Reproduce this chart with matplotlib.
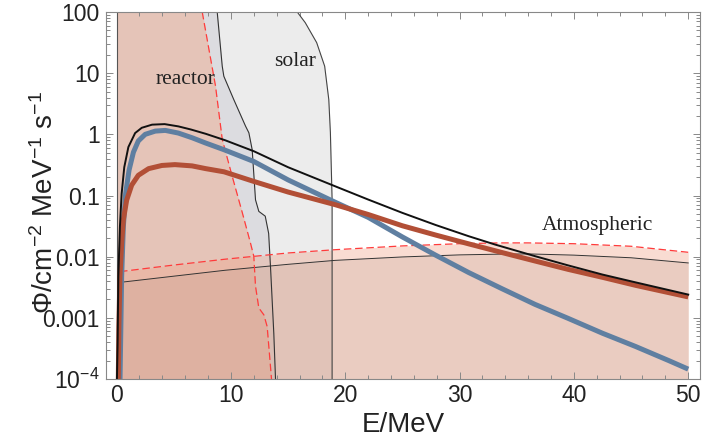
import numpy as np
import matplotlib
matplotlib.use('Agg')
import matplotlib.pyplot as plt
from matplotlib.ticker import FixedLocator, FixedFormatter, MultipleLocator, LogLocator, NullFormatter

# --- thick flux curves (E in MeV, flux in cm^-2 MeV^-1 s^-1) ---
total_e = [0.03, 0.09, 0.15, 0.29, 0.44, 0.67, 1.03, 1.62, 2.2, 3.1, 4.2, 5.4, 6.5, 7.8, 9.5,
           12, 15, 19.1, 22, 25, 27.9, 30.8, 33.1, 36.6, 39.5, 42.5, 45.4, 50]
total_phi = [1e-4, 3.9e-4, 0.0047, 0.031, 0.107, 0.29, 0.62, 1.05, 1.28, 1.44, 1.47, 1.35, 1.2, 1.02, 0.8,
             0.53, 0.29, 0.142, 0.086, 0.052, 0.033, 0.0216, 0.0158, 0.0102, 0.0072, 0.0051, 0.0038, 0.0024]

blue_e = [0.3, 0.35, 0.44, 0.59, 0.79, 1.09, 1.47, 1.9, 2.5, 3.38, 4.26, 5.4, 6.6, 7.8, 9.4,
          12, 15, 19.1, 22, 25, 27.9, 30.8, 33.7, 36.6, 39.5, 42.5, 45.4, 48.3, 50]
blue_phi = [1e-4, 3.9e-4, 0.0047, 0.031, 0.107, 0.26, 0.51, 0.78, 1.0, 1.13, 1.16, 1.05, 0.88, 0.72, 0.56,
            0.36, 0.18, 0.078, 0.044, 0.021, 0.0106, 0.0055, 0.003, 0.00166, 0.00098, 5.6e-4, 3.4e-4, 2.0e-4, 1.45e-4]

brown_e = [0.15, 0.2, 0.29, 0.44, 0.59, 0.88, 1.32, 1.9, 2.8, 3.96, 5.1, 6.6, 7.8, 9.4,
           12, 15, 19.1, 22, 25, 27.9, 30.8, 33.7, 36.6, 39.5, 42.5, 45.4, 50]
brown_phi = [1e-4, 7.2e-4, 0.0047, 0.0165, 0.04, 0.084, 0.148, 0.214, 0.275, 0.31, 0.32, 0.305, 0.275, 0.244,
             0.17, 0.114, 0.071, 0.049, 0.032, 0.0226, 0.0162, 0.0117, 0.0085, 0.0062, 0.0046, 0.0034, 0.0022]

# --- background regions ---
reactor_e = [7.49, 8.65, 9.24, 10.1, 11.0, 11.7, 12.0, 12.15, 12.44, 12.88, 13.17, 13.46, 13.55]
reactor_phi = [100, 6.2, 0.83, 0.21, 0.052, 0.017, 0.0102, 0.0033, 0.00145, 0.00112, 7.2e-4, 1.6e-4, 1e-4]

solar1_e = [8.8, 9.24, 9.38, 10.25, 11.28, 11.57, 11.86, 12.15, 12.44, 13.0, 13.3, 13.46, 13.75, 13.9]
solar1_phi = [100, 13, 8.9, 3.7, 1.36, 1.06, 0.56, 0.085, 0.055, 0.046, 0.024, 0.0069, 5.6e-4, 1e-4]

solar2_e = [15.8, 16.5, 17.5, 18.2, 18.56, 18.7, 18.85, 18.85]
solar2_phi = [100, 67, 31.6, 13, 3.7, 1.07, 0.085, 1e-4]

atm_e = [0.3, 5, 9.5, 15, 19.1, 25, 30, 33.5, 36, 40, 45, 50]
atm_hi = [0.0057, 0.0073, 0.0091, 0.0115, 0.013, 0.015, 0.0163, 0.0168, 0.0168, 0.0163, 0.0148, 0.0118]
atm_lo = [0.0038, 0.0048, 0.006, 0.0075, 0.0087, 0.0099, 0.0107, 0.011, 0.0111, 0.0106, 0.0096, 0.0079]

ytick_vals = [1e-4, 1e-3, 1e-2, 1e-1, 1, 10, 100]
ytick_labels = ['$10^{-4}$', '0.001', '0.01', '0.1', '1', '10', '100']
xtick_vals = [0, 10, 20, 30, 40, 50]

plt.rcParams['font.family'] = ['Liberation Sans', 'DejaVu Sans']
plt.rcParams['mathtext.default'] = 'regular'

fig = plt.figure(figsize=(7.06, 4.4), dpi=100)
ax = fig.add_axes([0.1501, 0.1386, 0.8414, 0.8341])
ax.set_yscale('log')

# shaded regions
ax.fill_betweenx(solar2_phi, 0, solar2_e, color='#ececec', lw=0, zorder=1)
ax.fill_betweenx(solar1_phi, 0, solar1_e, color='#dcdce0', lw=0, zorder=1.1)
ax.fill_betweenx(reactor_phi, 0, reactor_e, color='#e5c4b8', lw=0, zorder=1.2)
ax.fill_between(atm_e, 1e-5, atm_hi, color='#f0a88f', alpha=0.4, lw=0, zorder=1.3)
ax.fill_between(atm_e, 1e-5, atm_lo, color='#c0a090', alpha=0.25, lw=0, zorder=1.4)

# region boundaries
ax.axvline(0, color='#555555', lw=0.8, zorder=2)
ax.plot(solar2_e, solar2_phi, color='#444444', lw=0.8, zorder=2)
ax.plot(solar1_e, solar1_phi, color='#333333', lw=0.8, zorder=2)
ax.plot(reactor_e, reactor_phi, color='#ff3b3b', lw=0.9, ls=(0, (6, 3)), zorder=2.1)
ax.plot(atm_e, atm_lo, color='#333333', lw=0.7, zorder=2)
ax.plot(atm_e, atm_hi, color='#ff3b3b', lw=0.9, ls=(0, (6, 3)), zorder=2.1)

# flux curves
ax.plot(blue_e, blue_phi, color='#5f7fa1', lw=3.6, solid_capstyle='butt', solid_joinstyle='round', zorder=3)
ax.plot(brown_e, brown_phi, color='#b24f36', lw=3.6, solid_capstyle='butt', solid_joinstyle='round', zorder=3.1)
ax.plot(total_e, total_phi, color='#111111', lw=1.4, solid_joinstyle='round', zorder=3.2)

serif = dict(family=['Liberation Serif', 'DejaVu Serif'], fontsize=15.5, color='#222222',
             ha='center', va='center', zorder=4)
ax.text(6.0, 8, 'reactor', **serif)
ax.text(15.6, 15.5, 'solar', **serif)
ax.text(42.1, 0.032, 'Atmospheric', **serif)

ax.set_xlim(-0.93, 51.03)
ax.set_ylim(1e-4, 100)

ax.xaxis.set_major_locator(FixedLocator(xtick_vals))
ax.xaxis.set_minor_locator(MultipleLocator(2))
ax.yaxis.set_major_locator(FixedLocator(ytick_vals))
ax.yaxis.set_major_formatter(FixedFormatter(ytick_labels))
ax.yaxis.set_minor_locator(LogLocator(base=10, subs=np.arange(2, 10)))
ax.yaxis.set_minor_formatter(NullFormatter())

ax.tick_params(which='both', direction='in', top=True, right=True,
               color='#888888', width=0.7, labelcolor='#222222', labelsize=16.5)
ax.tick_params(which='major', length=5)
ax.tick_params(which='minor', length=2.9)
ax.tick_params(axis='x', pad=3.5)
ax.tick_params(axis='y', pad=4.5)
for sp in ax.spines.values():
    sp.set_color('#888888')
    sp.set_linewidth(0.8)
    sp.set_zorder(5)

ax.set_xlabel('E/MeV', fontsize=20, color='#222222', labelpad=4)
ax.set_ylabel('Φ/cm$^{-2}$ MeV$^{-1}$ s$^{-1}$', fontsize=20, color='#222222')
ax.yaxis.set_label_coords(-0.079, 0.48)

fig.savefig('out.png', dpi=100)
